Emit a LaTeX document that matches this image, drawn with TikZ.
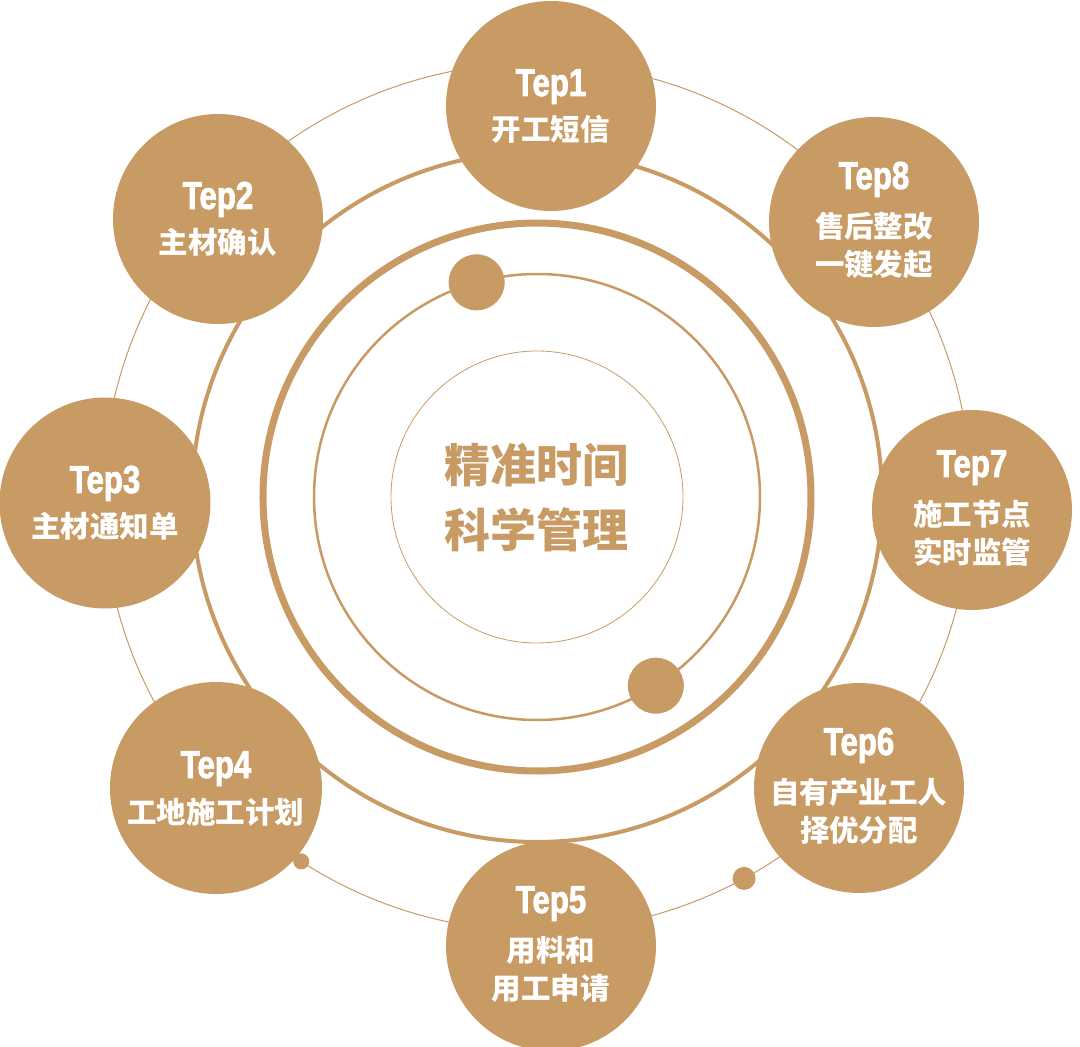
\documentclass[tikz,border=0pt]{standalone}
\usepackage{fontspec}
\usetikzlibrary{positioning,calc}
\newfontfamily\cjkfont{Noto Sans CJK SC}
\newfontfamily\tepfont{Liberation Sans}[FakeStretch=0.8,FakeBold=2]
\definecolor{tan}{HTML}{C89A64}
\tikzset{
  stepdot/.style={circle, fill=tan, inner sep=0pt},
  steptitle/.style={anchor=base, text=white, font=\tepfont\bfseries\fontsize{39}{39}\selectfont},
  steptext/.style={anchor=base, text=white, align=center, font=\cjkfont\bfseries\fontsize{29.5}{38}\selectfont},
  ring/.style={draw=tan},
  bead/.style={circle, fill=tan, inner sep=0pt},
  hubtext/.style={anchor=base, text=tan, align=center, font=\cjkfont\bfseries\fontsize{46}{65}\selectfont},
}
\begin{document}
\begin{tikzpicture}[x=1pt,y=1pt]
  \useasboundingbox (-537,-550) rectangle (543,497);
  \coordinate (c) at (0,0);
  \draw[ring, line width=0.8pt] (c) circle[radius=146];
  \draw[ring, line width=2.5pt] (c) circle[radius=223];
  \draw[ring, line width=7pt] (c) circle[radius=274];
  \draw[ring, line width=4pt] (c) circle[radius=345];
  \draw[ring, line width=1pt] (c) circle[radius=434];
  \node[bead, minimum size=56pt] (b1) at (105.7:223) {};
  \node[bead, minimum size=56pt] (b2) at (-57.8:223) {};
  \foreach \x/\y/\d/\ta/\tb/\txt [count=\i] in {%
    {14/391/210/10/-35/开工短信},
    {-319/278/210/10/-35/主材确认},
    {-432/-6/211/10/-35/主材通知单},
    {-321/-291/212/10/-35/工地施工计划},
    {14/-449/210/33/-53.5/{用料和\\用工申请}},
    {322/-291/210/33/-53.5/{自有产业工人\\择优分配}},
    {435/-13/200/33/-53.5/{施工节点\\实时监管}},
    {337/275/210/33/-53.5/{售后整改\\一键发起}}} {
    \node[stepdot, minimum size=\d pt] (s\i) at (\x,\y) {};
    \node[steptitle, yshift=\ta pt] (t\i) at (s\i.center) {Tep\i};
    \node[steptext, yshift=\tb pt] (l\i) at (s\i.center) {\txt};
  }
  \node[bead, minimum size=16pt] (b3) at (-122.9:434) {};
  \node[bead, minimum size=23pt] (b4) at (-61.5:434) {};
  \node[hubtext, yshift=-50.5pt] (hub) at (c) {精准时间\\科学管理};
\end{tikzpicture}
\end{document}
